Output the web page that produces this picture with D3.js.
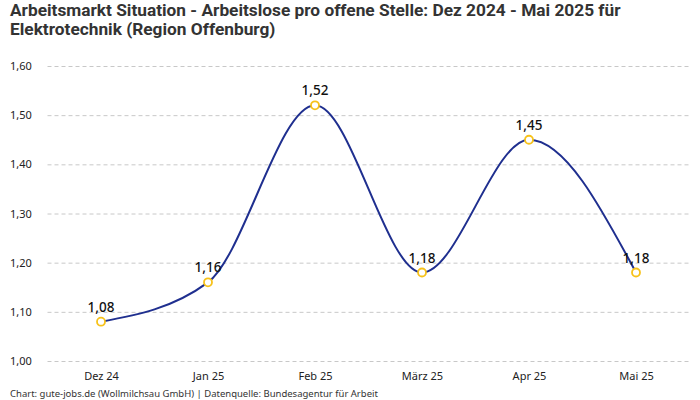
<!DOCTYPE html>
<html lang="de">
<head>
    <meta charset="UTF-8">
    <title>Arbeitsmarkt Situation Elektrotechnik</title>
    <script src="https://d3js.org/d3.v7.min.js"></script>
    <style>
        body { margin: 0; background: #fff; }
        .title { font-family: "Liberation Sans Narrow", "Roboto", sans-serif; font-weight: bold; font-size: 17.3px; fill: #333; }
        .tick text { font-family: "Noto Sans", sans-serif; font-size: 11px; fill: #222; }
        .val { font-family: "Noto Sans", sans-serif; font-size: 13.5px; font-weight: 500; fill: #111; }
        .footer { font-family: "Noto Sans", sans-serif; font-size: 9.5px; fill: #333; }
    </style>
</head>
<body>
<div id="chart"></div>
<script>
    const months = ["Dez 24", "Jan 25", "Feb 25", "März 25", "Apr 25", "Mai 25"];
    const values = [1.08, 1.16, 1.52, 1.18, 1.45, 1.18];
    const yTicks = [1.0, 1.1, 1.2, 1.3, 1.4, 1.5, 1.6];

    const W = 700, H = 400;
    const plotLeft = 47.5, plotRight = 689.5, plotTop = 66, plotBottom = 361;

    const svg = d3.select("#chart").append("svg")
        .attr("width", W)
        .attr("height", H);

    const x = d3.scalePoint()
        .domain(months)
        .range([plotLeft, plotRight])
        .padding(0.5);

    const y = d3.scaleLinear()
        .domain([1.0, 1.6])
        .range([plotBottom, plotTop]);

    const fmt = d => d.toFixed(2).replace(".", ",");

    // title
    svg.append("text").attr("class", "title").attr("x", 10).attr("y", 16)
        .text("Arbeitsmarkt Situation - Arbeitslose pro offene Stelle: Dez 2024 - Mai 2025 für");
    svg.append("text").attr("class", "title").attr("x", 10).attr("y", 35)
        .text("Elektrotechnik (Region Offenburg)");

    // y axis with dashed grid
    const yAxis = svg.append("g")
        .attr("transform", `translate(${plotLeft},0)`)
        .call(d3.axisLeft(y).tickValues(yTicks).tickFormat(fmt).tickSize(-(plotRight - plotLeft)));
    yAxis.select(".domain").remove();
    yAxis.selectAll(".tick line")
        .attr("stroke", "#c8c8c8")
        .attr("stroke-dasharray", "4,3");
    yAxis.selectAll(".tick text").attr("text-anchor", "start").attr("x", 10 - plotLeft);

    // x axis
    const xAxis = svg.append("g")
        .attr("transform", `translate(0,${plotBottom})`)
        .call(d3.axisBottom(x).tickSize(0).tickPadding(11));
    xAxis.select(".domain").remove();

    // line
    const line = d3.line()
        .x((d, i) => x(months[i]))
        .y(d => y(d))
        .curve(d3.curveMonotoneX);

    svg.append("path")
        .datum(values)
        .attr("fill", "none")
        .attr("stroke", "#1f2f8f")
        .attr("stroke-width", 2)
        .attr("d", line);

    // points
    svg.selectAll(".dot")
        .data(values)
        .enter().append("circle")
        .attr("class", "dot")
        .attr("cx", (d, i) => x(months[i]))
        .attr("cy", d => y(d))
        .attr("r", 4)
        .attr("fill", "#fff")
        .attr("stroke", "#f7c21a")
        .attr("stroke-width", 1.8);

    // value labels
    svg.selectAll(".val")
        .data(values)
        .enter().append("text")
        .attr("class", "val")
        .attr("text-anchor", "middle")
        .attr("x", (d, i) => x(months[i]))
        .attr("y", d => y(d) - 10)
        .text(fmt);

    svg.append("text").attr("class", "footer").attr("x", 10).attr("y", 397)
        .text("Chart: gute-jobs.de (Wollmilchsau GmbH) | Datenquelle: Bundesagentur für Arbeit");
</script>
</body>
</html>
